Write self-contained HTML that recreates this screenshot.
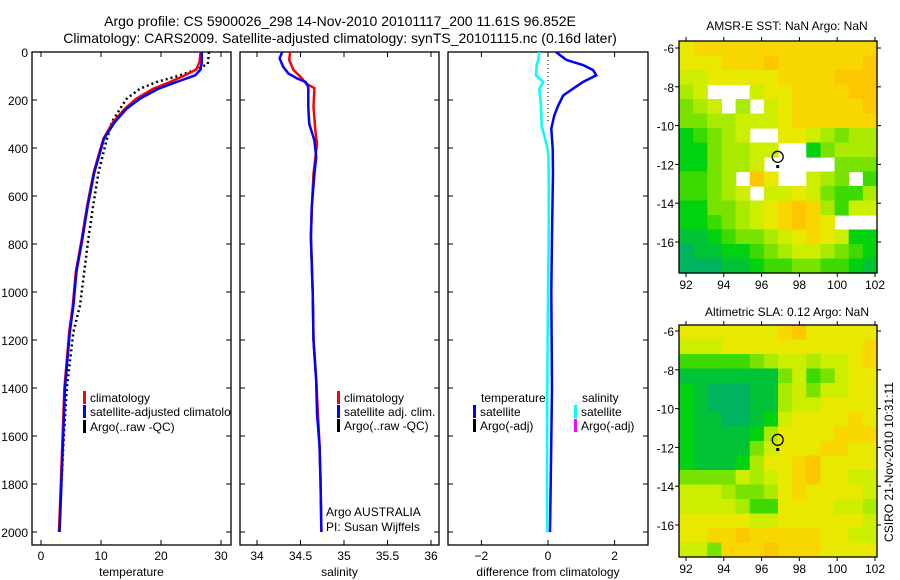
<!DOCTYPE html>
<html><head><meta charset="utf-8">
<style>
body{margin:0;background:#fff;}
svg{display:block;font-family:"Liberation Sans",sans-serif;}
</style></head>
<body>
<svg id="chart" width="900" height="580" viewBox="0 0 900 580">
<rect width="900" height="580" fill="#fff"/>
<text x="340" y="26" font-size="14" text-anchor="middle">Argo profile: CS 5900026_298 14-Nov-2010 20101117_200 11.61S 96.852E</text>
<text x="340" y="43" font-size="14" text-anchor="middle">Climatology: CARS2009. Satellite-adjusted climatology: synTS_20101115.nc (0.16d later)</text>
<text x="787" y="30" font-size="12" text-anchor="middle">AMSR-E SST: NaN Argo: NaN</text>
<text x="787" y="316" font-size="12" text-anchor="middle">Altimetric SLA: 0.12 Argo: NaN</text>
<text x="0" y="0" font-size="12" text-anchor="middle" transform="translate(893,462) rotate(-90)">CSIRO 21-Nov-2010 10:31:11</text>
<g id="g"></g>
</svg>
<script>
// ---- temperature panel data ----
const climDepth = [0,42,73,97,125,153,194,236,292,361,500,639,778,917,1056,1167,1400,1600,1800,2000];
const climT = [26.6,26.4,25.9,24,21.5,18.7,15.9,14,12,10.4,8.8,7.7,6.8,5.8,5.3,4.7,3.9,3.6,3.3,3.0];
const satT = [26.8,26.8,26.6,25.7,22.6,19.6,16.5,14.3,12.3,10.5,8.9,7.8,6.9,5.9,5.4,4.8,4.0,3.7,3.4,3.1];
const argoDepth = [0,50,73,97,125,153,194,236,292,361,500,639,778,917,1056,1167,1400,1600,1800,2000];
const argoT = [28,27.8,25.9,23.2,19.3,16.5,14.3,13.2,11.8,11,9.6,8.7,7.9,7.2,6.5,5.4,4.3,3.8,3.4,3.0];
// ---- salinity panel data ----
const climSDepth = [0,33,75,103,130,151,229,326,382,507,646,771,1000,1200,1367,1505,1645,1783,2000];
const climS = [34.38,34.37,34.42,34.5,34.56,34.66,34.65,34.67,34.69,34.65,34.63,34.62,34.64,34.65,34.68,34.7,34.72,34.73,34.74];
const satSDepth = [0,26,61,89,110,125,146,229,299,368,438,507,646,771,1000,1200,1367,1505,1645,1783,2000];
const satS = [34.29,34.26,34.30,34.36,34.46,34.56,34.59,34.59,34.60,34.66,34.68,34.66,34.63,34.62,34.64,34.65,34.68,34.69,34.72,34.73,34.74];
// ---- difference panel data ----
const dTDepth = [0,33,54,75,97,125,153,181,222,264,319,403,500,764,1000,1400,1800,2000];
const dT = [0.24,0.55,1.05,1.35,1.45,1.05,0.75,0.46,0.31,0.19,0.1,0.14,0.15,0.12,0.1,0.12,0.08,0.06];
const dSDepth = [0,33,54,97,125,153,222,306,361,417,500,764,1000,1400,1800,2000];
const dS = [-0.26,-0.29,-0.34,-0.36,-0.14,-0.26,-0.21,-0.19,-0.09,0.01,0.02,0.02,0.0,-0.02,-0.03,-0.02];
// ---- ticks ----
const depthTicks = [0,200,400,600,800,1000,1200,1400,1600,1800,2000];
const tempTicks = [0,10,20,30];
const salTicks = [34,34.5,35,35.5,36];
const salTickLabels = ["34","34.5","35","35.5","36"];
const diffTicks = [-2,0,2];
const lonTicks = [92,94,96,98,100,102];
const latTicks = [-6,-8,-10,-12,-14,-16];
// ---- map grids (0 teal-green .. 9 orange, '.' = NaN) ----
const sstGrid = [
"78888888888888","77788898888889","66777778888999","56...677888899",
"456.5.67888889","44556667888888","23456..7765455","2245566..24555",
"224556.....444","3345.97..654.3","33456.66764335","22445678985366",
"22345678987...","11234456787622","01122345665432","00011233443321"];
const slaGrid = [
"77777778977777","66677777777778","33333456656678","11111114634677",
"21000115646677","21000115667777","21100126777787","21111257777888",
"21111467778877","21112577897777","44446567897766","66654457877776",
"66665337777665","77777667777776","77889888887766","66488898887777"];
const argoLon = 96.852, argoLat = -11.61;

const NS="http://www.w3.org/2000/svg";
const G=document.getElementById('g');
function mk(tag,attrs,parent){const e=document.createElementNS(NS,tag);for(const k in attrs)e.setAttribute(k,attrs[k]);(parent||G).appendChild(e);return e;}
const pTop=52, pBot=545;
function yD(d){return 52+0.24*d;}
const panels=[
 {x0:32,x1:231,f:v=>41+6*v,ticks:tempTicks,labels:tempTicks.map(String),name:'temperature'},
 {x0:240,x1:439,f:v=>257+87*(v-34),ticks:salTicks,labels:salTickLabels,name:'salinity'},
 {x0:448,x1:648,f:v=>548+33.3*v,ticks:diffTicks,labels:["\u22122","0","2"],name:'difference from climatology'}];
panels.forEach((p,i)=>{
  const r=mk('rect',{x:p.x0,y:pTop,width:p.x1-p.x0,height:pBot-pTop,fill:'none',stroke:'#000','stroke-width':1.3});
  
  
  depthTicks.forEach(d=>{
    const y=yD(d);
    mk('line',{x1:p.x0,x2:p.x0+5,y1:y,y2:y,stroke:'#000'});
    mk('line',{x1:p.x1,x2:p.x1-5,y1:y,y2:y,stroke:'#000'});
    if(i===0){const t=mk('text',{x:28,y:y+5,'font-size':12,'text-anchor':'end'});t.textContent=d;
      
      }
  });
  p.ticks.forEach((v,j)=>{
    const x=p.f(v);
    mk('line',{x1:x,x2:x,y1:pTop,y2:pTop+5,stroke:'#000'});
    mk('line',{x1:x,x2:x,y1:pBot,y2:pBot-5,stroke:'#000'});
    const t=mk('text',{x:x,y:560,'font-size':12,'text-anchor':'middle'});t.textContent=p.labels[j];
    
    
  });
  const xt=mk('text',{x:(p.x0+p.x1)/2,y:576,'font-size':12,'text-anchor':'middle'});xt.textContent=p.name;
  
  
});
function line(depths,vals,f,color,name,dash){
  const pts=depths.map((d,k)=>f(vals[k]).toFixed(1)+','+yD(d).toFixed(1)).join(' ');
  const a={points:pts,fill:'none',stroke:color,'stroke-width':2.5};
  if(dash)a['stroke-dasharray']=dash;
  const e=mk('polyline',a);
  
  
}
const fT=panels[0].f,fS=panels[1].f,fD=panels[2].f;
line(argoDepth,argoT,fT,'#000','argo-temperature-line','2,3');
line(climDepth,climT,fT,'#f00','climatology-temperature-line');
line(climDepth,satT,fT,'#00f','satellite-temperature-line');
line(climSDepth,climS,fS,'#f00','climatology-salinity-line');
line(satSDepth,satS,fS,'#00f','satellite-salinity-line');
const zl=mk('line',{x1:fD(0),x2:fD(0),y1:pTop,y2:yD(300),stroke:'#000','stroke-dasharray':'1,3'});


line(dSDepth,dS,fD,'#0ff','salinity-difference-line');
line(dTDepth,dT,fD,'#00f','temperature-difference-line');

const cp=mk('clipPath',{id:'clip1'});mk('rect',{x:0,y:0,width:231,height:580},cp);
function legend(x,y,color,label,name,clipX){
  const m=mk('rect',{x:x,y:y-11,width:3,height:13,fill:color});
  
  
  const t=mk('text',{x:x+7,y:y,'font-size':12});t.textContent=label;
  
  
  if(clipX)t.setAttribute('clip-path','url(#clip1)');
}
legend(83,402,'#f00','climatology','legend-climatology-temp');
legend(83,416,'#00f','satellite-adjusted climatology','legend-satellite-temp',true);
legend(83,431,'#000','Argo(..raw -QC)','legend-argo-temp');
legend(337,402,'#f00','climatology','legend-climatology-sal');
legend(337,416,'#00f','satellite adj. clim.','legend-satellite-sal');
legend(337,430,'#000','Argo(..raw -QC)','legend-argo-sal');
[['Argo AUSTRALIA',516],['PI: Susan Wijffels',531]].forEach(([s,y])=>{const t=mk('text',{x:326,y:y,'font-size':12});t.textContent=s;
  
  });
let tt=mk('text',{x:481,y:402,'font-size':12});tt.textContent='temperature';


tt=mk('text',{x:582,y:402,'font-size':12});tt.textContent='salinity';


legend(473,416,'#00f','satellite','legend-temp-satellite');
legend(473,430,'#000','Argo(-adj)','legend-temp-argo');
legend(574,416,'#0ff','satellite','legend-sal-satellite');
legend(574,430,'#f0f','Argo(-adj)','legend-sal-argo');

// ---- maps ----
const pal=[[0,180,95],[0,195,55],[0,210,15],[60,218,0],[120,226,0],[170,234,0],[205,238,0],[232,232,0],[248,215,0],[252,198,0]];
function drawMap(grid,x0,y0,x1,y1,latRef6,latRef16,name){
  const rows=grid.length,cols=grid[0].length,cw=(x1-x0)/cols,chh=(y1-y0)/rows;
  const lonX=l=>686+(l-92)*(875-686)/10;
  const latY=l=>latRef6+(-6-l)*(latRef16-latRef6)/10;
  grid.forEach((row,r)=>{for(let c=0;c<cols;c++){const ch0=row[c];if(ch0==='.')continue;const v=pal[+ch0];
    const cell=mk('rect',{x:(x0+c*cw).toFixed(2),y:(y0+r*chh).toFixed(2),width:(cw+0.6).toFixed(2),height:(chh+0.6).toFixed(2),fill:'rgb('+v.join(',')+')'});
    
    }});
  const fr=mk('rect',{x:x0,y:y0,width:x1-x0,height:y1-y0,fill:'none',stroke:'#000','stroke-width':1.3});
  
  
  lonTicks.forEach(l=>{const x=lonX(l);mk('line',{x1:x,x2:x,y1:y0,y2:y0-4,stroke:'#000'});mk('line',{x1:x,x2:x,y1:y1,y2:y1+4,stroke:'#000'});
    const t=mk('text',{x:x,y:y1+16,'font-size':12,'text-anchor':'middle'});t.textContent=l;
    
    });
  latTicks.forEach(l=>{const y=latY(l);mk('line',{x1:x0,x2:x0-4,y1:y,y2:y,stroke:'#000'});mk('line',{x1:x1,x2:x1+4,y1:y,y2:y,stroke:'#000'});
    const t=mk('text',{x:x0-5,y:y+5,'font-size':12,'text-anchor':'end'});t.textContent=l;
    
    });
  const c=mk('circle',{cx:lonX(argoLon),cy:latY(argoLat),r:5.5,fill:'none',stroke:'#000','stroke-width':1.3});
  
  
  const d=mk('rect',{x:lonX(argoLon)-1.5,y:latY(argoLat-0.5)-1.5,width:3,height:3,fill:'#000'});
  
  
}
drawMap(sstGrid,679,41,877,273,48,242,'sst-map');
drawMap(slaGrid,679,325,877,557,331,525,'sla-map');
</script>
</body></html>
